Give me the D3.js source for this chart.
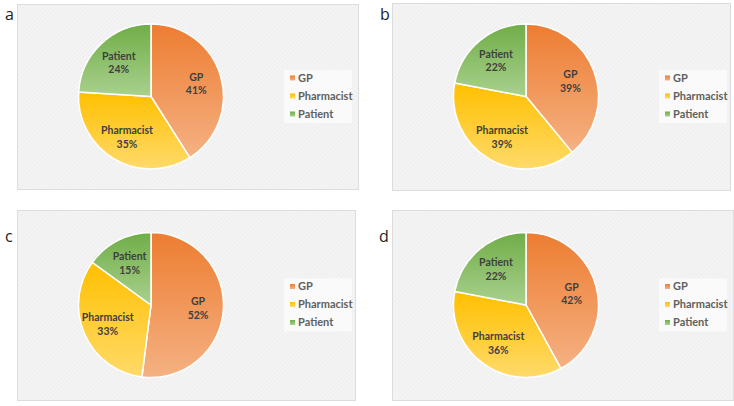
<!DOCTYPE html>
<html>
<head>
<meta charset="utf-8">
<script src="https://cdn.jsdelivr.net/npm/d3@7"></script>
<style>
  body { margin: 0; background: #fff; }
  svg { display: block; }
</style>
</head>
<body>
<div id="chart"></div>
<script>
// Data
var categories = ["GP", "Pharmacist", "Patient"];
var panelNames = ["a", "b", "c", "d"];
var valuesA = [41, 35, 24];
var valuesB = [39, 39, 22];
var valuesC = [52, 33, 15];
var valuesD = [42, 36, 22];
var allValues = [valuesA, valuesB, valuesC, valuesD];

// Excel-ish gradient stops (top, bottom) for each category
var colorsTop    = ["#ED7D31", "#FFC000", "#70AD47"];
var colorsBottom = ["#F5B183", "#FFDA6A", "#A9D18E"];

// Panel frames: x, y, w, h and where the letter sits
var frames = [
	{x: 17,  y: 4,   w: 341, h: 185, lx: 5,   ly: 20},
	{x: 392, y: 3,   w: 338, h: 187, lx: 380, ly: 20},
	{x: 17,  y: 210, w: 338, h: 190, lx: 5,   ly: 242},
	{x: 392, y: 210, w: 341, h: 190, lx: 379, ly: 242}
];

var svg_dx = 734, svg_dy = 406, radius = 72.5;

var svg = d3.select("#chart")
			.append("svg")
			.attr("width", svg_dx)
			.attr("height", svg_dy);

var defs = svg.append("defs");

// faint diagonal hatch used by the chart area
var pat = defs.append("pattern")
			  .attr("id", "hatch")
			  .attr("patternUnits", "userSpaceOnUse")
			  .attr("width", 3)
			  .attr("height", 3)
			  .attr("patternTransform", "rotate(45)");
pat.append("rect").attr("width", 3).attr("height", 3).attr("fill", "#f4f4f4");
pat.append("line").attr("x1", 0).attr("y1", 0).attr("x2", 0).attr("y2", 3)
   .attr("stroke", "#eaeaea").attr("stroke-width", 1.2);

var color = d3.scaleOrdinal().domain(categories).range(d3.range(categories.length));

categories.forEach(function(c, i) {
	var g = defs.append("linearGradient")
				.attr("id", "grad" + i)
				.attr("x1", 0).attr("y1", 0)
				.attr("x2", 0).attr("y2", 1);
	g.append("stop").attr("offset", "0%").attr("stop-color", colorsTop[i]);
	g.append("stop").attr("offset", "100%").attr("stop-color", colorsBottom[i]);
});

var pie = d3.pie().sort(null).value(function(d) { return d.value; });
var arc = d3.arc().innerRadius(0).outerRadius(radius);
var labelArc = d3.arc().innerRadius(radius * 0.65).outerRadius(radius * 0.65);

frames.forEach(function(f, p) {
	var data = categories.map(function(c, i) { return {name: c, value: allValues[p][i]}; });

	svg.append("text")
	   .attr("x", f.lx)
	   .attr("y", f.ly)
	   .style("font-family", "'Open Sans', sans-serif")
	   .style("font-size", "16px")
	   .style("fill", "#222")
	   .text(panelNames[p]);

	var panel = svg.append("g")
				   .attr("transform", "translate(" + f.x + "," + f.y + ")");

	panel.append("rect")
		 .attr("x", 0.5).attr("y", 0.5)
		 .attr("width", f.w).attr("height", f.h)
		 .attr("fill", "url(#hatch)")
		 .attr("stroke", "#dcdcdc");

	var pieG = panel.append("g")
					.attr("transform", "translate(" + 134 + "," + (f.h / 2) + ")");

	var slices = pie(data);

	pieG.selectAll(".slice")
		.data(slices)
		.enter()
		.append("path")
		.attr("class", "slice")
		.attr("d", arc)
		.attr("fill", function(d) { return "url(#grad" + color(d.data.name) + ")"; })
		.attr("stroke", "#fff")
		.attr("stroke-width", 1.5);

	var labels = pieG.selectAll(".lbl")
					 .data(slices)
					 .enter()
					 .append("text")
					 .attr("class", "lbl")
					 .attr("transform", function(d) { return "translate(" + labelArc.centroid(d) + ")"; })
					 .attr("text-anchor", "middle")
					 .style("font-family", "Lato, sans-serif")
					 .style("font-weight", "bold")
					 .style("font-size", "10.5px")
					 .style("fill", "#3f3f3f");
	labels.append("tspan").attr("x", 0).attr("dy", "-0.25em").text(function(d) { return d.data.name; });
	labels.append("tspan").attr("x", 0).attr("dy", "1.3em").text(function(d) { return d.data.value + "%"; });

	// legend
	var lg = panel.append("g")
				  .attr("transform", "translate(" + 267 + "," + (f.h / 2 - 26.5) + ")");
	lg.append("rect")
	  .attr("width", 68).attr("height", 53)
	  .attr("fill", "#fafafa");

	var yRow = d3.scalePoint().domain(categories).range([8, 44]);

	var items = lg.selectAll(".item")
				  .data(categories)
				  .enter()
				  .append("g")
				  .attr("class", "item")
				  .attr("transform", function(d) { return "translate(6," + yRow(d) + ")"; });
	items.append("rect")
		 .attr("x", 0).attr("y", -2.5)
		 .attr("width", 5).attr("height", 5)
		 .attr("fill", function(d) { return "url(#grad" + color(d) + ")"; });
	items.append("text")
		 .attr("x", 8)
		 .attr("dy", "0.36em")
		 .style("font-family", "Lato, sans-serif")
		 .style("font-size", "11px")
		 .style("font-weight", "bold")
		 .style("fill", "#606060")
		 .text(function(d) { return d; });
});
</script>
</body>
</html>
